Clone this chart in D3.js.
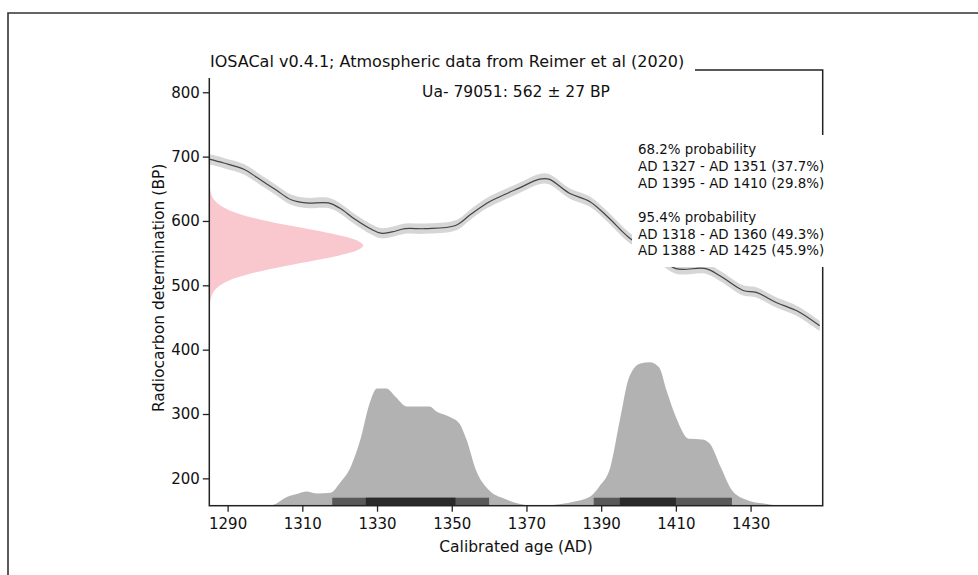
<!DOCTYPE html>
<html>
<head>
<meta charset="utf-8">
<script src="https://cdn.jsdelivr.net/npm/d3@7"></script>
<style>
  body { margin: 0; background: #fff; }
  svg { display: block; font-family: 'DejaVu Sans', sans-serif; }
</style>
</head>
<body>
<svg id="chart" width="978" height="575"></svg>
<script>
// calibration curve (Reimer et al 2020)
var curveYears = [1285, 1289, 1294.5, 1298, 1303, 1307, 1311, 1317, 1320, 1324, 1328.5, 1331, 1334, 1337.5, 1343, 1351, 1355, 1359.5, 1363, 1368, 1373.5, 1376, 1381.5, 1387, 1392, 1397.5, 1404, 1410, 1418, 1422, 1428, 1431.5, 1437, 1442.5, 1448.5];
var curveBP = [696, 690, 680, 667, 648, 633, 628, 628, 620, 603, 587, 581, 583, 588, 588, 593, 610, 628, 638, 651, 665, 665, 643, 630, 605, 574, 550, 526, 526, 514, 492, 489, 473, 460, 437];
var curveErr = 8;

// radiocarbon determination (pink), width in years from the left edge
var detBP = [462, 472, 482, 492, 502, 512, 522, 532, 542, 552, 557, 562, 567, 572, 582, 592, 602, 612, 622, 632, 642, 652, 662];
var detWidth = [0.05, 0.2, 0.5, 1.4, 3.5, 7.4, 13.8, 22.2, 31.3, 38.5, 40.4, 41.2, 40.4, 38.5, 31.3, 22.2, 13.8, 7.4, 3.5, 1.4, 0.5, 0.2, 0.05];

// calibrated distribution, height above the bottom of the axis (BP units)
var distYears = [1300, 1302, 1306, 1309, 1311, 1314, 1317.5, 1320, 1323, 1325.5, 1328, 1330, 1332.5, 1335, 1338, 1344, 1346, 1349.5, 1352, 1354, 1356.5, 1360, 1364, 1368, 1372, 1377, 1382.5, 1387, 1389.5, 1392.5, 1395, 1397.5, 1400.5, 1403, 1405.5, 1407.5, 1410, 1413.5, 1417, 1419, 1422, 1425, 1429, 1434, 1438, 1445];
var distHeight = [0, 1, 14, 19, 22, 19, 20, 35, 61, 102, 159, 182, 182, 169, 154, 154, 146, 138, 128, 102, 55, 24, 11, 3, 0, 1, 6, 14, 30, 61, 133, 200, 221, 223, 215, 179, 138, 104, 103, 97, 60, 24, 9, 3, 0, 0];

// ranges
var ranges95 = [[1318, 1360], [1388, 1425]];
var ranges68 = [[1327, 1351], [1395, 1410]];
var barHeight = 12.4;

var xTicks = [1290, 1310, 1330, 1350, 1370, 1390, 1410, 1430];
var yTicks = [200, 300, 400, 500, 600, 700, 800];

var titleText = 'IOSACal v0.4.1; Atmospheric data from Reimer et al (2020)';
var subtitleText = 'Ua- 79051: 562 \u00b1 27 BP';
var legendLines = ['68.2% probability', 'AD 1327 - AD 1351 (37.7%)', 'AD 1395 - AD 1410 (29.8%)', '',
  '95.4% probability', 'AD 1318 - AD 1360 (49.3%)', 'AD 1388 - AD 1425 (45.9%)'];

var svg = d3.select('#chart');
var plotL = 209.3, plotR = 822.7, plotT = 70, plotB = 505.7;

var x = d3.scaleLinear().domain([1285.1, 1449.3]).range([plotL, plotR]);
var y = d3.scaleLinear().domain([157.5, 834.6]).range([plotB, plotT]);

// outer frame
svg.append('path')
  .attr('d', 'M8,575 L8,13 L978,13')
  .style('fill', 'none').style('stroke', '#333').style('stroke-width', 1.6);

// calibration curve band + line
var curve = curveYears.map(function(d, i) { return { yr: d, bp: curveBP[i] }; });
svg.append('path')
  .datum(curve)
  .attr('d', d3.area()
    .x(function(d) { return x(d.yr); })
    .y0(function(d) { return y(d.bp - curveErr); })
    .y1(function(d) { return y(d.bp + curveErr); })
    .curve(d3.curveCatmullRom.alpha(0.5)))
  .style('fill', '#d6d6d6');
svg.append('path')
  .datum(curve)
  .attr('d', d3.line()
    .x(function(d) { return x(d.yr); })
    .y(function(d) { return y(d.bp); })
    .curve(d3.curveCatmullRom.alpha(0.5)))
  .style('fill', 'none').style('stroke', '#444').style('stroke-width', 1.2);

// radiocarbon determination
var det = detBP.map(function(d, i) { return { bp: d, w: detWidth[i] }; });
svg.append('path')
  .datum(det)
  .attr('d', d3.area()
    .y(function(d) { return y(d.bp); })
    .x0(x(1285.1))
    .x1(function(d) { return x(1285.1 + d.w); })
    .curve(d3.curveMonotoneY))
  .style('fill', '#f9c8cf');

// calibrated distribution
var base = y.domain()[0];
var dist = distYears.map(function(d, i) { return { yr: d, h: distHeight[i] }; });
svg.append('path')
  .datum(dist)
  .attr('d', d3.area()
    .x(function(d) { return x(d.yr); })
    .y0(y(base))
    .y1(function(d) { return y(base + d.h); })
    .curve(d3.curveMonotoneX))
  .style('fill', '#b2b2b2');

svg.selectAll('.r95').data(ranges95).enter().append('rect')
  .attr('x', function(d) { return x(d[0]); })
  .attr('width', function(d) { return x(d[1]) - x(d[0]); })
  .attr('y', y(base + barHeight))
  .attr('height', y(base) - y(base + barHeight))
  .style('fill', '#595959');
svg.selectAll('.r68').data(ranges68).enter().append('rect')
  .attr('x', function(d) { return x(d[0]); })
  .attr('width', function(d) { return x(d[1]) - x(d[0]); })
  .attr('y', y(base + barHeight))
  .attr('height', y(base) - y(base + barHeight))
  .style('fill', '#2a2a2a');

// spines
svg.append('rect')
  .attr('x', plotL).attr('y', plotT)
  .attr('width', plotR - plotL).attr('height', plotB - plotT)
  .style('fill', 'none').style('stroke', '#222').style('stroke-width', 1.5);

// axes
var xAxis = svg.append('g')
  .attr('transform', 'translate(0,' + plotB + ')')
  .call(d3.axisBottom(x).tickValues(xTicks).tickFormat(d3.format('d')).tickSize(6).tickPadding(6.5));
var yAxis = svg.append('g')
  .attr('transform', 'translate(' + plotL + ',0)')
  .call(d3.axisLeft(y).tickValues(yTicks).tickSize(6.5).tickPadding(3));
[xAxis, yAxis].forEach(function(g) {
  g.select('.domain').remove();
  g.selectAll('line').style('stroke', '#222').style('stroke-width', 1.3);
  g.selectAll('text').style('font-family', 'DejaVu Sans').style('font-size', '15px').style('fill', '#111');
});

// axis labels
svg.append('text')
  .attr('x', (plotL + plotR) / 2).attr('y', 551.5)
  .attr('text-anchor', 'middle')
  .style('font-size', '15.5px').style('fill', '#111')
  .text('Calibrated age (AD)');
svg.append('text')
  .attr('transform', 'translate(164,' + ((plotT + plotB) / 2) + ') rotate(-90)')
  .attr('text-anchor', 'middle')
  .style('font-size', '15.5px').style('fill', '#111')
  .text('Radiocarbon determination (BP)');

// title with white box over the top spine
svg.append('rect')
  .attr('x', 205).attr('y', 48).attr('width', 490).attr('height', 30)
  .style('fill', '#fff');
svg.append('text')
  .attr('x', 210).attr('y', 67)
  .style('font-size', '16px').style('fill', '#111')
  .text(titleText);

svg.append('text')
  .attr('x', (plotL + plotR) / 2).attr('y', 97)
  .attr('text-anchor', 'middle')
  .style('font-size', '15.5px').style('fill', '#111')
  .text(subtitleText);

// ranges legend with white box
svg.append('rect')
  .attr('x', 632).attr('y', 135).attr('width', 200).attr('height', 132)
  .style('fill', '#fff');
svg.append('g').selectAll('text').data(legendLines).enter().append('text')
  .attr('x', 638)
  .attr('y', function(d, i) { return 154 + i * 16.9; })
  .style('font-size', '13.4px').style('fill', '#111')
  .text(function(d) { return d; });
</script>
</body>
</html>
